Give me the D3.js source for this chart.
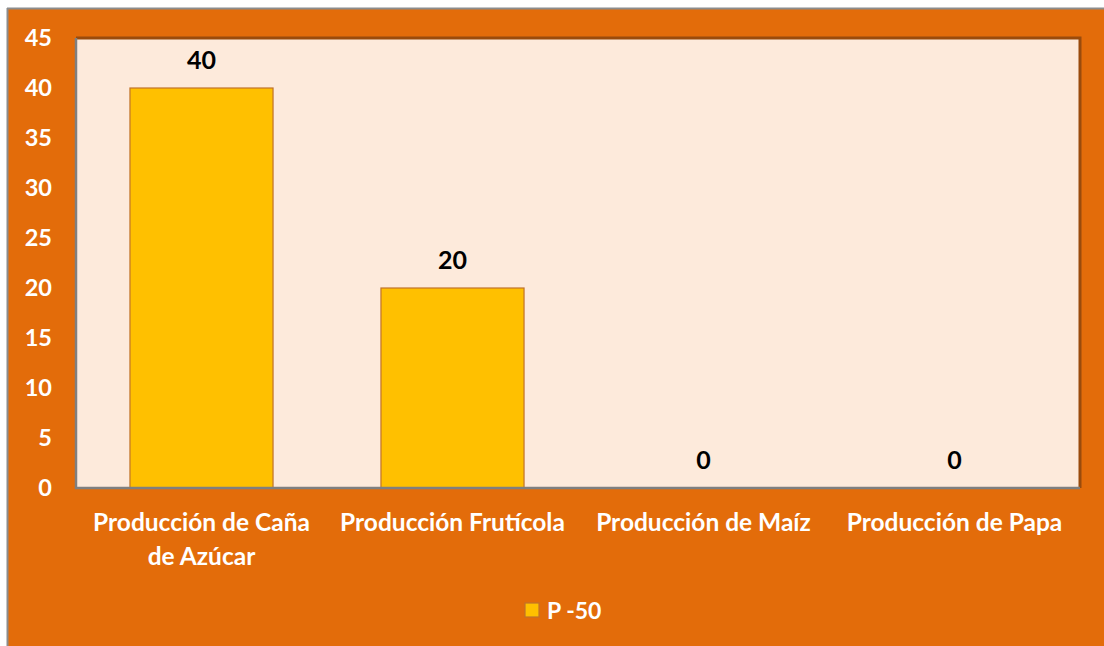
<!DOCTYPE html>
<html><head><meta charset="utf-8">
<script src="https://cdn.jsdelivr.net/npm/d3@7"></script>
<style>html,body{margin:0;padding:0;background:#fff;}svg{display:block;}</style>
</head><body>
<svg id="c" width="1104" height="646"></svg>
<script>
const categories = [["Producción de Caña","de Azúcar"],["Producción Frutícola"],["Producción de Maíz"],["Producción de Papa"]];
const values = [40, 20, 0, 0];
const yTicks = [0,5,10,15,20,25,30,35,40,45];
const seriesName = "P -50";

const svg = d3.select("#c");
const W = 1104, H = 646;
const font = "Lato, 'Open Sans', sans-serif";
// outer background
svg.append("rect").attr("x",7).attr("y",8).attr("width",W-7).attr("height",H-8).attr("fill","#e36c0a");
svg.append("line").attr("x1",7).attr("x2",W).attr("y1",8.5).attr("y2",8.5).attr("stroke","#8c8c8c").attr("stroke-width",2);
svg.append("line").attr("x1",7.5).attr("x2",7.5).attr("y1",8).attr("y2",H).attr("stroke","#8c8c8c").attr("stroke-width",2);

const m = {l:76, t:38, r:1080, b:488};
const x = d3.scaleBand().domain(d3.range(categories.length)).range([m.l,m.r]).paddingInner(0.43).paddingOuter(0.215);
const y = d3.scaleLinear().domain([0,45]).range([m.b,m.t]);

svg.append("rect").attr("x",m.l).attr("y",m.t).attr("width",m.r-m.l).attr("height",m.b-m.t).attr("fill","#fdeadb");

// bars
svg.selectAll(".bar").data(values).join("rect")
  .attr("x",(d,i)=>x(i)).attr("y",d=>y(d)).attr("width",x.bandwidth()).attr("height",d=>y(0)-y(d))
  .attr("fill","#ffc000").attr("stroke","#c0722a").attr("stroke-width",1.2);

// plot border
svg.append("path").attr("d",`M${m.l},${m.t}H${m.r}V${m.b}`).attr("fill","none").attr("stroke","#9a4b0c").attr("stroke-width",3);
svg.append("path").attr("d",`M${m.l},${m.t}V${m.b}H${m.r}`).attr("fill","none").attr("stroke","#7f7f7f").attr("stroke-width",2.5);

// y axis
const ya = svg.append("g").attr("transform",`translate(${m.l},0)`).call(d3.axisLeft(y).tickValues(yTicks).tickSize(0).tickPadding(24));
ya.select(".domain").remove();
ya.selectAll("text").attr("fill","#fff").style("font-family",font).style("font-weight","bold").style("font-size","23.5px");

// data labels
svg.selectAll(".lbl").data(values).join("text")
  .attr("x",(d,i)=>x(i)+x.bandwidth()/2).attr("y",d=>y(d)-19)
  .attr("text-anchor","middle").attr("fill","#000")
  .style("font-family",font).style("font-weight","bold").style("font-size","25px").text(d=>d);

// x labels
const xl = svg.selectAll(".xl").data(categories).join("text")
  .attr("x",(d,i)=>x(i)+x.bandwidth()/2).attr("y",531)
  .attr("text-anchor","middle").attr("fill","#fff")
  .style("font-family",font).style("font-weight","bold").style("font-size","24.5px");
xl.each(function(d,i){
  const t = d3.select(this);
  d.forEach((line,j)=>t.append("tspan").attr("x",x(i)+x.bandwidth()/2).attr("dy",j?34:0).text(line));
});

// legend
svg.append("rect").attr("x",525).attr("y",603).attr("width",14).attr("height",14).attr("fill","#ffc000").attr("stroke","#c0722a").attr("stroke-width",1.2);
svg.append("text").attr("x",547).attr("y",619).attr("fill","#fff").style("font-family",font).style("font-weight","bold").style("font-size","23px").text(seriesName);
</script>
</body></html>
